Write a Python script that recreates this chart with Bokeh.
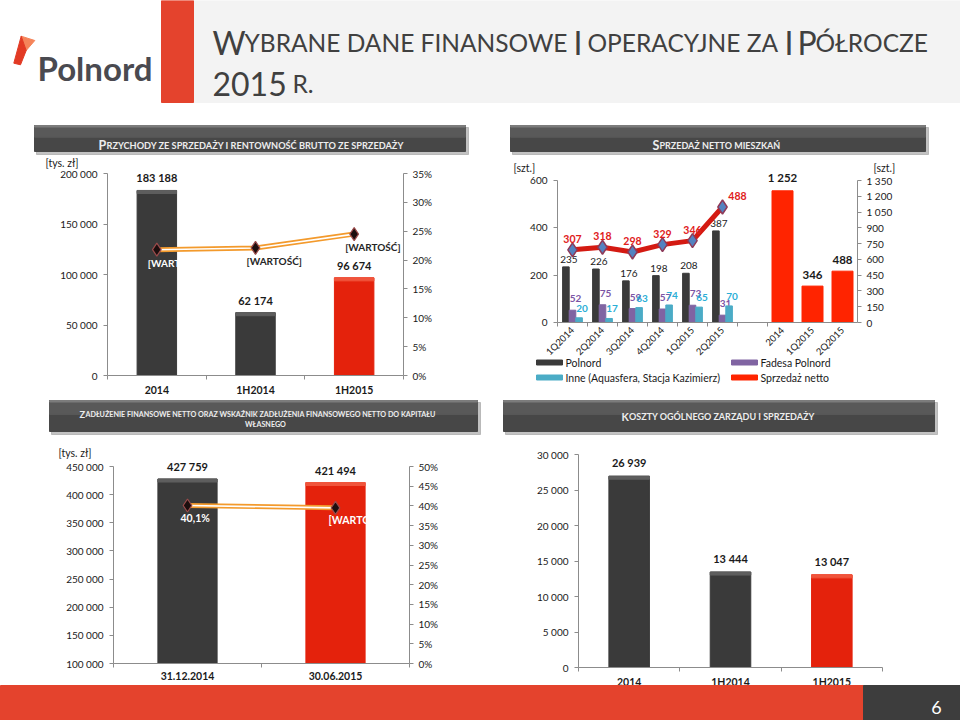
import math
from bokeh.plotting import figure
from bokeh.models import Range1d, LinearAxis, FixedTicker, ColumnDataSource
from bokeh.transform import dodge
from bokeh.embed import file_html
from bokeh.resources import INLINE
from bokeh.core.properties import value

# ---------------- DATA ----------------
rev_categories = ["2014", "1H2014", "1H2015"]
rev_values = [183188, 62174, 96674]
rev_value_labels = ["183 188", "62 174", "96 674"]
rev_margin_pct = [21.8, 22.1, 24.5]
rev_margin_labels = ["[WARTOŚĆ]", "[WARTOŚĆ]", "[WARTOŚĆ]"]
rev_y_ticks = [0, 50000, 100000, 150000, 200000]
rev_y_tick_labels = ["0", "50 000", "100 000", "150 000", "200 000"]
rev_pct_ticks = [0, 5, 10, 15, 20, 25, 30, 35]
rev_pct_tick_labels = ["0%", "5%", "10%", "15%", "20%", "25%", "30%", "35%"]

sales_quarters = ["1Q2014", "2Q2014", "3Q2014", "4Q2014", "1Q2015", "2Q2015"]
sales_polnord = [235, 226, 176, 198, 208, 387]
sales_fadesa = [52, 75, 59, 57, 73, 31]
sales_inne = [20, 17, 63, 74, 65, 70]
sales_total = [307, 318, 298, 329, 346, 488]
net_periods = ["2014", "1Q2015", "2Q2015"]
net_sales = [1252, 346, 488]
net_sales_labels = ["1 252", "346", "488"]
sales_left_ticks = [0, 200, 400, 600]
sales_left_tick_labels = ["0", "200", "400", "600"]
sales_right_ticks = [0, 150, 300, 450, 600, 750, 900, 1050, 1200, 1350]
sales_right_tick_labels = ["0", "150", "300", "450", "600", "750", "900", "1 050", "1 200", "1 350"]
sales_legend = ["Polnord", "Fadesa Polnord", "Inne (Aquasfera, Stacja Kazimierz)", "Sprzedaż netto"]

debt_dates = ["31.12.2014", "30.06.2015"]
debt_values = [427759, 421494]
debt_value_labels = ["427 759", "421 494"]
debt_ratio_pct = [40.1, 39.5]
debt_ratio_labels = ["40,1%", "[WARTOŚĆ]"]
debt_y_ticks = [100000, 150000, 200000, 250000, 300000, 350000, 400000, 450000]
debt_y_tick_labels = ["100 000", "150 000", "200 000", "250 000", "300 000", "350 000", "400 000", "450 000"]
debt_pct_ticks = [0, 5, 10, 15, 20, 25, 30, 35, 40, 45, 50]
debt_pct_tick_labels = ["0%", "5%", "10%", "15%", "20%", "25%", "30%", "35%", "40%", "45%", "50%"]

cost_categories = ["2014", "1H2014", "1H2015"]
cost_values = [26939, 13444, 13047]
cost_value_labels = ["26 939", "13 444", "13 047"]
cost_y_ticks = [0, 5000, 10000, 15000, 20000, 25000, 30000]
cost_y_tick_labels = ["0", "5 000", "10 000", "15 000", "20 000", "25 000", "30 000"]

# ---------------- STYLE ----------------
FONT = "Lato"
DARK = "#3A3A3A"
DARK_CAP = "#5E5E5E"
RED = "#E4220C"
RED_CAP = "#F0553C"
RED2 = "#FF2400"
PURPLE = "#8064A2"
CYAN = "#4BACC6"
ORANGE = "#F39A2C"
AXIS_C = "#8C8C8C"
TXT = "#1A1A1A"
BRAND = "#E4432D"
BANNER_TXT = "#EDEDED"

rev_colors = [DARK, DARK, RED]
rev_cap_colors = [DARK_CAP, DARK_CAP, RED_CAP]
rev_margin_label_colors = ["white", "#262626", "#262626"]
debt_colors = [DARK, RED]
debt_cap_colors = [DARK_CAP, RED_CAP]
debt_label_colors = ["white", "white"]
cost_colors = [DARK, DARK, RED]
cost_cap_colors = [DARK_CAP, DARK_CAP, RED_CAP]
CAP_PX = 3

PW, PH = 960, 720
P = figure(width=PW, height=PH, x_range=Range1d(0, PW), y_range=Range1d(PH, 0),
           x_axis_type=None, y_axis_type=None, output_backend="svg",
           toolbar_location=None, min_border=0, outline_line_color=None,
           border_fill_color="white", background_fill_color="white")


def xmap(a, b, pa, pb):
    k = (b - a) / (pb - pa)
    s = a - pa * k
    return Range1d(s, s + PW * k)


def ymap(c, d, pc, pd):
    k = (d - c) / (pc - pd)
    s = c - (PH - pc) * k
    return Range1d(s, s + PH * k)


def upp(name):
    r = P.extra_y_ranges[name]
    return (r.end - r.start) / PH


P.extra_x_ranges = {
    "tl_x": xmap(-0.5, 2.5, 107, 403),
    "tr_x": xmap(-0.5, 9.5, 557, 857),
    "bl_x": xmap(-0.5, 1.5, 113, 409),
    "br_x": xmap(-0.5, 2.5, 578, 882),
}
P.extra_y_ranges = {
    "tl_y": ymap(0, 200000, 375, 173),
    "tl_p": ymap(0, 35, 375, 173),
    "tr_y": ymap(0, 600, 322, 180),
    "tr_u": ymap(0, 1350, 322, 180),
    "bl_y": ymap(100000, 450000, 663, 466),
    "bl_p": ymap(0, 50, 663, 466),
    "br_y": ymap(0, 30000, 667, 454),
}


def txt(x, y, s, size, color=TXT, bold=False, align="left", baseline="alphabetic", level="glyph"):
    P.text(x=[x], y=[y], text=[s], text_font=value(FONT), text_font_size=size,
           text_color=color, text_font_style="bold" if bold else "normal",
           text_align=align, text_baseline=baseline, level=level)


def small_caps(x, y, big, rest, big_size, small_size, big_w, color=BANNER_TXT):
    txt(x, y, big, big_size, color, True)
    txt(x + big_w, y, rest, small_size, color, True)


def banner_box(x0, x1, y0, y1):
    P.quad(left=x0 + 2, right=x1 + 3, top=y0 + 2, bottom=y1 + 3, color="#A8A8A8", alpha=0.7)
    P.quad(left=x0, right=x1, top=y0, bottom=y1, color="#474747")
    P.quad(left=x0, right=x1, top=y0, bottom=y0 + (y1 - y0) * 0.45, color="#595959")
    P.quad(left=x0, right=x1, top=y0, bottom=y0 + 1.5, color="#7C7C7C")


def add_axis(side, xr, yr, loc, bounds, ticks, labels, minor=None, size="10px",
             bold=False, standoff=5, tick_out=4, minor_out=0, orient=None):
    ax = LinearAxis(x_range_name=xr, y_range_name=yr, fixed_location=loc, bounds=bounds,
                    ticker=FixedTicker(ticks=ticks, minor_ticks=minor or []),
                    major_label_overrides=dict(zip(ticks, labels)))
    ax.axis_line_color = AXIS_C
    ax.major_tick_line_color = AXIS_C
    ax.minor_tick_line_color = AXIS_C
    ax.major_label_text_font = FONT
    ax.major_label_text_font_size = size
    ax.major_label_text_color = TXT
    ax.major_label_text_font_style = "bold" if bold else "normal"
    ax.major_tick_in = 0
    ax.major_tick_out = tick_out
    ax.minor_tick_in = 0
    ax.minor_tick_out = minor_out
    ax.major_label_standoff = standoff
    if orient is not None:
        ax.major_label_orientation = orient
    P.add_layout(ax, side)
    return ax


# ---------------- HEADER ----------------
P.quad(left=193, right=960, top=0, bottom=102, color="#F3F3F3")
P.quad(left=161, right=193, top=0, bottom=102, color=BRAND)
P.patch(x=[20.7, 34.3, 25.7], y=[35.7, 40, 50], color="#F5845A")
P.patch(x=[20.7, 25.7, 20, 13.3], y=[35.7, 50, 64.3, 62.7], color="#E23A24")
txt(37, 67, "Polnord", "33px", "#4A4A50", True)
TC = "#404040"
B, S = "32px", "24.5px"
txt(212, 42, "W", B, TC)
txt(244, 42, "YBRANE DANE FINANSOWE", S, TC)
txt(573, 42, "I", B, TC)
txt(587, 42, "OPERACYJNE ZA", S, TC)
txt(784, 42, "I", B, TC)
txt(797, 42, "P", B, TC)
txt(815, 42, "ÓŁROCZE", S, TC)
txt(212, 83, "2015", B, TC)
txt(292, 83, "R.", S, TC)

# ---------------- TOP LEFT: revenue ----------------
banner_box(34, 465, 125, 151)
small_caps(98, 144.5, "P", "RZYCHODY ZE SPRZEDAŻY I RENTOWNOŚĆ BRUTTO ZE SPRZEDAŻY",
           "12.5px", "9.2px", 8)
txt(45, 162, "[tys. zł]", "10.5px", TXT, False, "left", "middle")

R = dict(x_range_name="tl_x", y_range_name="tl_y")
RP = dict(x_range_name="tl_x", y_range_name="tl_p")
rev_src = ColumnDataSource(dict(x=list(range(len(rev_categories))), v=rev_values,
                                cap=[v - CAP_PX * upp("tl_y") for v in rev_values],
                                lab=rev_value_labels, c=rev_colors, cc=rev_cap_colors,
                                pct=rev_margin_pct, plab=rev_margin_labels,
                                pc=rev_margin_label_colors))
P.vbar(x="x", top="v", width=0.4, color="c", source=rev_src, **R)
P.vbar(x="x", top="v", bottom="cap", width=0.4, color="cc", source=rev_src, **R)
P.text(x="x", y="v", text="lab", source=rev_src, text_font=value(FONT), text_font_size="11px",
       text_font_style="bold", text_color=TXT, text_align="center", text_baseline="bottom",
       y_offset=-6, **R)
P.line(x="x", y="pct", source=rev_src, color=ORANGE, line_width=5, **RP)
P.line(x="x", y="pct", source=rev_src, color="white", line_width=1.6, **RP)
P.scatter(x="x", y="pct", source=rev_src, marker="diamond", size=13,
          fill_color="#1C0E0E", line_color="#9A4A4A", line_width=1.2, **RP)
P.text(x="x", y="pct", text="plab", source=rev_src, text_font=value(FONT),
       text_font_size="10px", text_font_style="bold", text_color="pc", text_align="left",
       text_baseline="middle", x_offset=-9, y_offset=13, **RP)
add_axis("left", "tl_x", "tl_y", -0.5, (0, 200000), rev_y_ticks, rev_y_tick_labels, standoff=6)
add_axis("right", "tl_x", "tl_p", 2.5, (0, 35), rev_pct_ticks, rev_pct_tick_labels)
add_axis("below", "tl_x", "tl_y", 0, (-0.5, 2.5), list(range(len(rev_categories))),
         rev_categories, [-0.5, 0.5, 1.5, 2.5], size="10.5px", bold=True, standoff=4,
         tick_out=0, minor_out=4)

# ---------------- TOP RIGHT: flats sales ----------------
banner_box(510, 925, 125, 151)
small_caps(652, 144.5, "S", "PRZEDAŻ  NETTO MIESZKAŃ", "12.5px", "9px", 7)
txt(513, 167.5, "[szt.]", "10.5px", TXT, False, "left", "middle")
txt(873, 167.5, "[szt.]", "10.5px", TXT, False, "left", "middle")

T = dict(x_range_name="tr_x", y_range_name="tr_y")
TU = dict(x_range_name="tr_x", y_range_name="tr_u")
q_x = list(range(len(sales_quarters)))
n_x = [len(sales_quarters) + 1 + i for i in range(len(net_periods))]
q_src = ColumnDataSource(dict(x=q_x, pol=sales_polnord, fad=sales_fadesa, inn=sales_inne,
                              tot=sales_total,
                              pol_l=[str(v) for v in sales_polnord],
                              fad_l=[str(v) for v in sales_fadesa],
                              inn_l=[str(v) for v in sales_inne],
                              tot_l=[str(v) for v in sales_total],
                              dx=[0, 0, 0, 0, 0, 15]))
n_src = ColumnDataSource(dict(x=n_x, v=net_sales, lab=net_sales_labels))
W = 0.22
for fld, off, col, lc, bold, yo in [("pol", -W, DARK, TXT, "normal", -4),
                                     ("fad", 0, PURPLE, "#7B55A5", "bold", -8),
                                     ("inn", W, CYAN, "#2AAED6", "bold", -6)]:
    P.vbar(x=dodge("x", off), top=fld, width=W, color=col, source=q_src, **T)
    P.text(x=dodge("x", off + 0.1), y=fld, text=fld + "_l", source=q_src,
           text_font=value(FONT), text_font_size="10px", text_font_style=bold, text_color=lc,
           text_align="center", text_baseline="bottom", y_offset=yo, **T)
P.vbar(x="x", top="v", width=0.7, color=RED2, source=n_src, **TU)
P.text(x="x", y="v", text="lab", source=n_src, text_font=value(FONT),
       text_font_size="11.5px", text_font_style="bold", text_color=TXT, text_align="center",
       text_baseline="bottom", y_offset=-7, **TU)
P.line(x="x", y="tot", source=q_src, color="#D41A12", line_width=5, **T)
P.scatter(x="x", y="tot", source=q_src, marker="diamond", size=14, fill_color="#5382C0",
          line_color="#8E3A59", line_width=1.5, **T)
P.text(x="x", y="tot", text="tot_l", source=q_src, text_font=value(FONT),
       text_font_size="10.5px", text_font_style="bold", text_color="#E0201B",
       text_align="center", text_baseline="bottom", y_offset=-7, x_offset="dx", **T)
add_axis("left", "tr_x", "tr_y", -0.5, (0, 600), sales_left_ticks, sales_left_tick_labels,
         standoff=6)
add_axis("right", "tr_x", "tr_u", 9.5, (0, 1350), sales_right_ticks, sales_right_tick_labels)
add_axis("below", "tr_x", "tr_y", 0, (-0.5, 9.5), q_x + n_x, sales_quarters + net_periods,
         [-0.5, 0.5, 1.5, 2.5, 3.5, 4.5, 5.5, 6.5], size="9.5px", standoff=2, tick_out=0,
         minor_out=4, orient=math.pi / 4)

leg_cols = [DARK, PURPLE, CYAN, RED2]
leg_pos = [(536, 362), (731, 362), (536, 377), (731, 377)]
for (lx, ly), col, name in zip(leg_pos, leg_cols, sales_legend):
    P.quad(left=lx, right=lx + 26, top=ly - 2.5, bottom=ly + 2.5, color=col)
    txt(lx + 29, ly, name, "10.5px", TXT, False, "left", "middle")

# ---------------- BOTTOM LEFT: debt ----------------
banner_box(49, 477, 400, 431)
small_caps(79, 413.5, "Z",
           "ADŁUŻENIE  FINANSOWE  NETTO  ORAZ WSKAŹNIK ZADŁUŻENIA FINANSOWEGO NETTO DO KAPITAŁU",
           "9.3px", "7.2px", 6)
txt(265, 423.5, "WŁASNEGO", "7.2px", BANNER_TXT, True, "center")
txt(58, 452, "[tys. zł]", "10.5px", TXT, False, "left", "middle")

D = dict(x_range_name="bl_x", y_range_name="bl_y")
DP = dict(x_range_name="bl_x", y_range_name="bl_p")
debt_src = ColumnDataSource(dict(x=list(range(len(debt_dates))), v=debt_values,
                                 cap=[v - CAP_PX * upp("bl_y") for v in debt_values],
                                 lab=debt_value_labels, c=debt_colors, cc=debt_cap_colors,
                                 pct=debt_ratio_pct, plab=debt_ratio_labels,
                                 pc=debt_label_colors))
P.vbar(x="x", top="v", bottom=debt_y_ticks[0], width=0.4, color="c", source=debt_src, **D)
P.vbar(x="x", top="v", bottom="cap", width=0.4, color="cc", source=debt_src, **D)
P.text(x="x", y="v", text="lab", source=debt_src, text_font=value(FONT), text_font_size="11px",
       text_font_style="bold", text_color=TXT, text_align="center", text_baseline="bottom",
       y_offset=-6, **D)
P.line(x="x", y="pct", source=debt_src, color=ORANGE, line_width=5, **DP)
P.line(x="x", y="pct", source=debt_src, color="white", line_width=1.6, **DP)
P.scatter(x="x", y="pct", source=debt_src, marker="diamond", size=13,
          fill_color="#1C0E0E", line_color="#9A4A4A", line_width=1.2, **DP)
P.text(x="x", y="pct", text="plab", source=debt_src, text_font=value(FONT),
       text_font_size="10.5px", text_font_style="bold", text_color="pc", text_align="left",
       text_baseline="middle", x_offset=-7, y_offset=12, **DP)
add_axis("left", "bl_x", "bl_y", -0.5, (100000, 450000), debt_y_ticks, debt_y_tick_labels,
         standoff=6)
add_axis("right", "bl_x", "bl_p", 1.5, (0, 50), debt_pct_ticks, debt_pct_tick_labels)
add_axis("below", "bl_x", "bl_y", 100000, (-0.5, 1.5), list(range(len(debt_dates))),
         debt_dates, [-0.5, 0.5, 1.5], size="10.5px", bold=True, standoff=4, tick_out=0,
         minor_out=4)

# ---------------- BOTTOM RIGHT: costs ----------------
banner_box(503, 934, 400, 431)
small_caps(621, 416, "K", "OSZTY OGÓLNEGO ZARZĄDU I SPRZEDAŻY", "10.7px", "9px", 7.5)

C = dict(x_range_name="br_x", y_range_name="br_y")
cost_src = ColumnDataSource(dict(x=list(range(len(cost_categories))), v=cost_values,
                                 cap=[v - CAP_PX * upp("br_y") for v in cost_values],
                                 lab=cost_value_labels, c=cost_colors, cc=cost_cap_colors))
P.vbar(x="x", top="v", width=0.4, color="c", source=cost_src, **C)
P.vbar(x="x", top="v", bottom="cap", width=0.4, color="cc", source=cost_src, **C)
P.text(x="x", y="v", text="lab", source=cost_src, text_font=value(FONT), text_font_size="11px",
       text_font_style="bold", text_color=TXT, text_align="center", text_baseline="bottom",
       y_offset=-7, **C)
add_axis("left", "br_x", "br_y", -0.5, (0, 30000), cost_y_ticks, cost_y_tick_labels, standoff=6)
add_axis("below", "br_x", "br_y", 0, (-0.5, 2.5), list(range(len(cost_categories))),
         cost_categories, [-0.5, 0.5, 1.5, 2.5], size="10.5px", bold=True, standoff=4,
         tick_out=0, minor_out=4)

# ---------------- FOOTER ----------------
P.quad(left=0, right=863, top=685, bottom=720, color=BRAND, level="overlay")
P.quad(left=863, right=960, top=685, bottom=720, color="#3D3D3D", level="overlay")
txt(936, 707, "6", "18px", "white", False, "center", "middle", level="overlay")

open("out.html", "w", encoding="utf-8").write(file_html(P, INLINE, title="Polnord"))
